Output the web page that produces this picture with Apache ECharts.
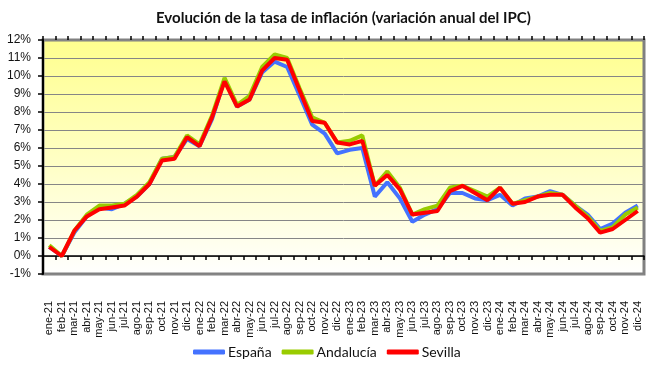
<!DOCTYPE html>
<html>
<head>
<meta charset="utf-8">
<script src="https://cdn.jsdelivr.net/npm/echarts@6/dist/echarts.min.js"></script>
<style>html,body{margin:0;padding:0;background:#fff}#c{width:656px;height:366px}</style>
</head>
<body>
<div id="c"></div>
<script>
const categories = [
  'ene-21','feb-21','mar-21','abr-21','may-21','jun-21','jul-21','ago-21','sep-21','oct-21','nov-21','dic-21',
  'ene-22','feb-22','mar-22','abr-22','may-22','jun-22','jul-22','ago-22','sep-22','oct-22','nov-22','dic-22',
  'ene-23','feb-23','mar-23','abr-23','may-23','jun-23','jul-23','ago-23','sep-23','oct-23','nov-23','dic-23',
  'ene-24','feb-24','mar-24','abr-24','may-24','jun-24','jul-24','ago-24','sep-24','oct-24','nov-24','dic-24'
];
const espana = [
  0.5,0.0,1.3,2.2,2.7,2.6,2.9,3.3,4.0,5.4,5.5,6.5,
  6.1,7.6,9.8,8.3,8.7,10.2,10.8,10.5,8.9,7.3,6.8,5.7,
  5.9,6.0,3.3,4.1,3.2,1.9,2.3,2.6,3.5,3.5,3.2,3.1,
  3.4,2.8,3.2,3.3,3.6,3.4,2.8,2.3,1.5,1.8,2.4,2.8
];
const andalucia = [
  0.6,0.0,1.4,2.3,2.8,2.8,2.9,3.4,4.1,5.4,5.5,6.7,
  6.2,7.8,9.9,8.4,8.9,10.5,11.2,11.0,9.3,7.7,7.4,6.3,
  6.4,6.7,3.9,4.7,3.8,2.3,2.6,2.8,3.8,3.9,3.6,3.3,
  3.8,2.9,3.1,3.3,3.5,3.4,2.8,2.2,1.4,1.6,2.3,2.7
];
const sevilla = [
  0.5,0.0,1.4,2.2,2.6,2.7,2.8,3.3,4.0,5.3,5.4,6.6,
  6.1,7.7,9.7,8.3,8.7,10.3,11.0,10.9,9.2,7.5,7.4,6.3,
  6.2,6.4,3.9,4.5,3.7,2.3,2.4,2.5,3.6,3.9,3.5,3.1,
  3.8,2.9,3.0,3.3,3.4,3.4,2.7,2.1,1.3,1.5,2.0,2.5
];
const seriesNames = ['España','Andalucía','Sevilla'];
const seriesColors = ['#4472FF','#99CC00','#FF0000'];
const yMin = -1, yMax = 12, yStep = 1;

const chart = echarts.init(document.getElementById('c'), null, {renderer:'canvas'});
const axisFont = 'Liberation Sans, Arial, sans-serif';
chart.setOption({
  animation: false,
  title: {
    text: 'Evolución de la tasa de inflación (variación anual del IPC)',
    left: 151, top: 6,
    textStyle: {fontFamily: 'Lato, sans-serif', fontWeight: 'bold', fontSize: 15, color: '#111'}
  },
  legend: {
    data: seriesNames,
    left: 188, top: 340,
    icon: 'roundRect', itemWidth: 32, itemHeight: 5, itemGap: 10,
    textStyle: {fontFamily: 'Lato, sans-serif', fontSize: 14, color: '#111', padding: [0,0,0,-2]}
  },
  grid: {
    left: 43, right: 12, top: 40, bottom: 92,
    show: true,
    borderColor: '#808080', borderWidth: 3,
    backgroundColor: {type:'linear', x:0, y:0, x2:0, y2:1,
      colorStops:[{offset:0,color:'#FFFF8E'},{offset:0.55,color:'#FFFFC8'},{offset:1,color:'#FFFFFF'}]}
  },
  xAxis: [{
    type: 'category', data: categories, boundaryGap: true,
    axisLine: {onZero: true, lineStyle: {color: '#000', width: 1.5}},
    axisTick: {show: true, interval: 0, length: 4, lineStyle: {color: '#000', width: 1.5}},
    axisLabel: {interval: 0, rotate: 90, margin: 27, fontFamily: axisFont, fontSize: 11, color: '#111'},
    splitLine: {show: false}
  },{
    type: 'category', data: categories, boundaryGap: true, position: 'top',
    axisLine: {show: false, onZero: true},
    axisTick: {show: true, interval: 0, length: 4, lineStyle: {color: '#000', width: 1.5}},
    axisLabel: {show: false},
    splitLine: {show: false}
  }],
  yAxis: {
    type: 'value', min: yMin, max: yMax, interval: yStep,
    axisLine: {show: true, lineStyle: {color: '#000', width: 2}},
    axisTick: {show: true, length: 5, lineStyle: {color: '#000', width: 1.5}},
    axisLabel: {formatter: '{value}%', fontFamily: axisFont, fontSize: 12, color: '#111', margin: 12},
    splitLine: {show: true, lineStyle: {color: '#868686', width: 1}}
  },
  series: seriesNames.map((n, i) => ({
    name: n, type: 'line',
    data: [espana, andalucia, sevilla][i],
    showSymbol: false, symbol: 'none',
    lineStyle: {color: seriesColors[i], width: 4},
    itemStyle: {color: seriesColors[i]},
    z: 2 + i
  }))
});
</script>
</body>
</html>
